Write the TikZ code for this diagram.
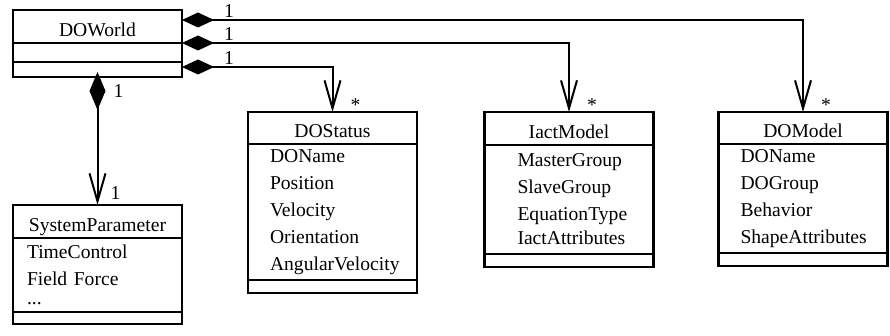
\documentclass[tikz,border=0pt]{standalone}
\usepackage{fontspec}
\setmainfont{Liberation Serif}
\usetikzlibrary{arrows.meta, positioning}
\tikzset{
	clstitle/.style={rectangle, draw=black, line width=1.3pt, minimum width=84.5pt, minimum height=16.5pt, inner sep=0pt, outer sep=0pt, text height=10pt, text depth=0pt, align=center},
	clsattr/.style ={rectangle, draw=black, line width=1.3pt, minimum width=84.5pt, inner ysep=0pt, outer sep=0pt, align=left},
	clsops/.style  ={rectangle, draw=black, line width=1.3pt, minimum width=84.5pt, inner sep=0pt, outer sep=0pt},
	comp/.style    ={{Diamond[length=16pt, width=7.5pt]}-{Straight Barb[length=14pt, width=8pt]}, line width=1pt},
	compv/.style   ={{Diamond[length=19pt, width=8pt]}-{Straight Barb[length=14pt, width=8pt]}, line width=1pt},
	mult/.style    ={anchor=base west, inner sep=0pt},
}
\begin{document}
\begin{tikzpicture}[x=0.5pt, y=-0.5pt, font=\fontsize{9.8}{13.5}\selectfont]
	\useasboundingbox (0,0) rectangle (890,336);
	% DOWorld
	\node[clstitle, anchor=north] (world) at (97.5,10) {DOWorld};
	\node[clsops, minimum height=9.5pt, below=0pt of world] (worldattr) {};
	\node[clsops, minimum height=7.5pt, below=0pt of worldattr] (worldops) {};
	% SystemParameter
	\node[clstitle, anchor=north] (param) at (97.5,205) {SystemParameter};
	\node[clsattr, below=0pt of param, minimum height=37pt, inner xsep=7pt, text width=70.5pt] (paramattr) {TimeControl\\ Field Force\\[-4pt] ...};
	\node[clsops, minimum height=6pt, below=0pt of paramattr] (paramops) {};
	% DOStatus
	\node[clstitle, anchor=north, minimum height=16pt] (status) at (332.5,112) {DOStatus};
	\node[clsattr, below=0pt of status, minimum height=68pt, inner xsep=11pt, text width=62.5pt] (statusattr) {DOName\\ Position\\ Velocity\\ Orientation\\ AngularVelocity};
	\node[clsops, minimum height=6.5pt, below=0pt of statusattr] (statusops) {};
	% IactModel
	\node[clstitle, anchor=north] (iact) at (569,112) {IactModel};
	\node[clsattr, below=0pt of iact, minimum height=54.5pt, inner xsep=16.5pt, text width=51.5pt] (iactattr) {MasterGroup\\ SlaveGroup\\ EquationType\\[-1.5pt] IactAttributes};
	\node[clsops, minimum height=6.5pt, below=0pt of iactattr] (iactops) {};
	% DOModel
	\node[clstitle, anchor=north, minimum height=16pt] (model) at (803,112) {DOModel};
	\node[clsattr, below=0pt of model, minimum height=54.5pt, inner xsep=11pt, text width=62.5pt] (modelattr) {DOName\\ DOGroup\\ Behavior\\ ShapeAttributes};
	\node[clsops, minimum height=6.5pt, below=0pt of modelattr] (modelops) {};
	% compositions
	\draw[comp] ([yshift=3.25pt]world.east) -| node[mult, pos=0, xshift=20.5pt, yshift=1pt] {1} node[mult, pos=1, xshift=8.5pt] {*} (model.north);
	\draw[comp] (world.south east) -| node[mult, pos=0, xshift=20.5pt, yshift=1pt] {1} node[mult, pos=1, xshift=8.5pt] {*} (iact.north);
	\draw[comp] ([yshift=1.25pt]worldops.east) -| node[mult, pos=0, xshift=20.5pt, yshift=1pt] {1} node[mult, pos=1, xshift=8.5pt] {*} (status.north);
	\draw[compv] ([yshift=2.5pt]worldops.south) -- node[mult, pos=0, xshift=7.5pt, yshift=-13pt] {1} node[mult, pos=1, xshift=6pt, yshift=2.5pt] {1} (param.north);
\end{tikzpicture}
\end{document}
